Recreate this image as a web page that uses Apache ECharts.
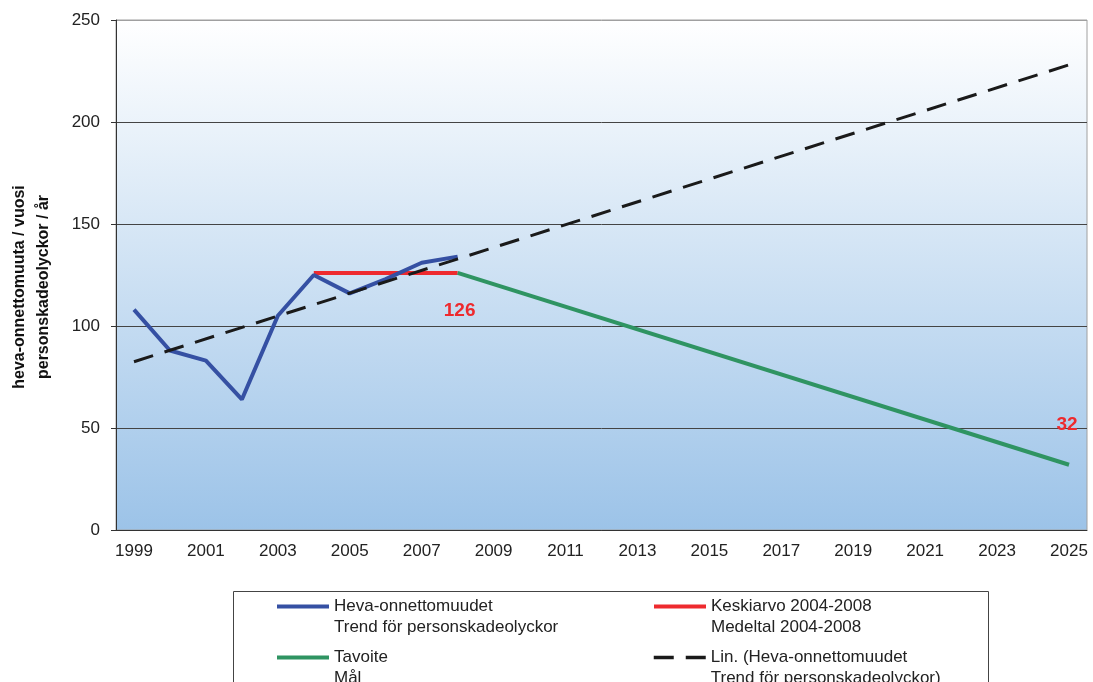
<!DOCTYPE html>
<html>
<head>
<meta charset="utf-8">
<script src="https://cdn.jsdelivr.net/npm/echarts@6/dist/echarts.min.js"></script>
<style>
  html, body { margin: 0; padding: 0; background: #fff; }
  #chart { width: 1093px; height: 682px; }
</style>
</head>
<body>
<div id="chart"></div>
<script>
    var years = ['1999','2000','2001','2002','2003','2004','2005','2006','2007','2008','2009','2010','2011','2012','2013',
                 '2014','2015','2016','2017','2018','2019','2020','2021','2022','2023','2024','2025'];
    var accidents = [108, 88, 83, 64, 105, 125, 116, 123, 131, 134];
    var average = [null, null, null, null, null, 126, 126, 126, 126, 126];
    // target: 2008 -> 2025, only the two ends are given
    var target = [];
    target[9] = 126;
    target[26] = 32;
    // linear trend, ends only
    var trend = [];
    trend[0] = 82.5;
    trend[26] = 228;
    var names = [
        'Heva-onnettomuudet\nTrend för personskadeolyckor',
        'Keskiarvo 2004-2008\nMedeltal 2004-2008',
        'Tavoite\nMål',
        'Lin. (Heva-onnettomuudet\nTrend för personskadeolyckor)'
    ];
    var yTicks = { min: 0, max: 250, interval: 50 };

    function fill(arr) {
        var out = [];
        for (var i = 0; i < years.length; i++) {
            out.push(arr[i] === undefined ? null : arr[i]);
        }
        return out;
    }

    var chartLine = echarts.init(document.getElementById('chart'));
    var font = 'Liberation Sans, Arial, sans-serif';

    function legendAt(name, left, top, lineWidth) {
        return {
            data: [name],
            left: left,
            top: top,
            orient: 'horizontal',
            itemWidth: 52,
            itemHeight: 14,
            itemGap: 0,
            selectedMode: false,
            itemStyle: { opacity: 0 },
            lineStyle: { width: lineWidth },
            // leading empty line keeps the icon level with the first text line
            formatter: function (n) { return '\n' + n; },
            textStyle: {
                fontFamily: font,
                fontSize: 17,
                color: '#222',
                lineHeight: 21
            }
        };
    }

    chartLine.setOption({
        animation: false,
        textStyle: { fontFamily: font },
        grid: {
            left: 114,
            right: 6,
            top: 20,
            bottom: 152,
            show: true,
            borderColor: '#a0a0a0',
            borderWidth: 1,
            backgroundColor: new echarts.graphic.LinearGradient(0, 0, 0, 1, [
                { offset: 0, color: '#ffffff' },
                { offset: 1, color: '#9cc3e8' }
            ])
        },
        legend: [
            legendAt(names[0], 270, 570, 4),
            legendAt(names[1], 647, 570, 4),
            legendAt(names[2], 270, 621, 4),
            legendAt(names[3], 647, 621, 3.5)
        ],
        graphic: [{
            type: 'rect',
            shape: { x: 233.5, y: 591.5, width: 755, height: 120 },
            style: { fill: 'none', stroke: '#444', lineWidth: 1 },
            z: 0
        }],
        xAxis: {
            type: 'category',
            data: years,
            boundaryGap: true,
            axisLine: { lineStyle: { color: '#333', width: 1 } },
            axisTick: { interval: 0, length: 5, lineStyle: { color: '#333' } },
            axisLabel: { interval: 1, fontSize: 17, color: '#222', margin: 13, fontFamily: font },
            splitLine: { show: false }
        },
        yAxis: {
            type: 'value',
            min: yTicks.min,
            max: yTicks.max,
            interval: yTicks.interval,
            name: 'heva-onnettomuuta / vuosi\npersonskadeolyckor / år',
            nameLocation: 'middle',
            nameGap: 60,
            nameTextStyle: {
                fontSize: 16, fontWeight: 'bold', color: '#111', lineHeight: 24,
                fontFamily: font, padding: [0, 24, 0, 0]
            },
            axisLine: { show: true, lineStyle: { color: '#333', width: 1 } },
            axisTick: { show: true, length: 5, lineStyle: { color: '#333' } },
            axisLabel: { fontSize: 17, color: '#222', margin: 16, fontFamily: font },
            splitLine: { lineStyle: { color: ['#444', '#444', '#444', '#444', '#444', '#a0a0a0'], width: 1 } }
        },
        series: [
            {
                name: names[0],
                type: 'line',
                data: fill(accidents),
                symbol: 'none',
                lineStyle: { color: '#3550a3', width: 4 },
                itemStyle: { color: '#3550a3' },
                z: 4
            },
            {
                name: names[1],
                type: 'line',
                data: fill(average),
                symbol: 'none',
                lineStyle: { color: '#ee2a2e', width: 4 },
                itemStyle: { color: '#ee2a2e' },
                z: 3,
                markPoint: {
                    symbol: 'circle',
                    symbolSize: 0,
                    data: [{ coord: ['2008', 126], value: 126 }],
                    label: {
                        show: true,
                        position: 'bottom',
                        distance: 28,
                        offset: [2, 0],
                        color: '#ee2a2e',
                        fontSize: 19,
                        fontWeight: 'bold',
                        fontFamily: font,
                        formatter: '{c}'
                    }
                }
            },
            {
                name: names[2],
                type: 'line',
                data: fill(target),
                connectNulls: true,
                symbol: 'none',
                lineStyle: { color: '#2f9462', width: 4 },
                itemStyle: { color: '#2f9462' },
                z: 3,
                markPoint: {
                    symbol: 'circle',
                    symbolSize: 0,
                    data: [{ coord: ['2025', 32], value: 32 }],
                    label: {
                        show: true,
                        position: 'top',
                        distance: 30,
                        offset: [-2, 0],
                        color: '#ee2a2e',
                        fontSize: 19,
                        fontWeight: 'bold',
                        fontFamily: font,
                        formatter: '{c}'
                    }
                }
            },
            {
                name: names[3],
                type: 'line',
                data: fill(trend),
                connectNulls: true,
                symbol: 'none',
                lineStyle: { color: '#1a1a1a', width: 3, type: [20, 12] },
                itemStyle: { color: '#1a1a1a' },
                z: 5
            }
        ]
    });
</script>
</body>
</html>
